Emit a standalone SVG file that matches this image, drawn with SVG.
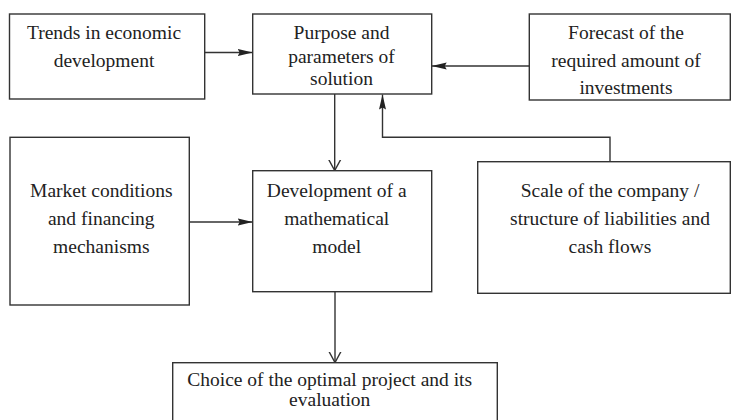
<svg xmlns="http://www.w3.org/2000/svg" width="731" height="420" viewBox="0 0 731 420">
  <style>
    .box { fill: #ffffff; stroke: #333333; stroke-width: 1.4; }
    .lbl { font-family: 'Liberation Serif', 'DejaVu Serif', serif; font-size: 19.5px; fill: #222222; text-anchor: middle; }
    .edge { fill: none; stroke: #333333; stroke-width: 1.4; }
  </style>
  <defs>
    <marker id="solid" markerUnits="userSpaceOnUse" markerWidth="16" markerHeight="10" refX="15" refY="5" orient="auto">
      <path d="M0,1.5 L15,5 L0,8.5 L2,5 Z" fill="#222222"/>
    </marker>
    <marker id="open" markerUnits="userSpaceOnUse" markerWidth="14" markerHeight="14" refX="11" refY="7" orient="auto">
      <path d="M0,1 L11,7 L0,13" fill="none" stroke="#333333" stroke-width="1.4"/>
    </marker>
  </defs>
  <rect width="731" height="420" fill="#ffffff"/>

  <g id="connectors">
    <line class="edge" x1="204.7" y1="52.5" x2="252.7" y2="52.5" marker-end="url(#solid)"/>
    <line class="edge" x1="529.3" y1="66" x2="431.7" y2="66" marker-end="url(#solid)"/>
    <line class="edge" x1="189.3" y1="222" x2="252.7" y2="222" marker-end="url(#solid)"/>
    <polyline class="edge" points="610,161.7 610,137.3 382.5,137.3 382.5,94.5" marker-end="url(#solid)"/>
    <line class="edge" x1="334.7" y1="94" x2="334.7" y2="170.5" marker-end="url(#open)"/>
    <line class="edge" x1="335" y1="291.7" x2="335" y2="362.5" marker-end="url(#open)"/>
  </g>

  <g id="trends">
    <rect class="box" x="9.5" y="14" width="195.2" height="85"/>
    <text class="lbl" x="104" y="39">Trends in economic</text>
    <text class="lbl" x="104" y="66.5">development</text>
  </g>

  <g id="purpose">
    <rect class="box" x="252.7" y="14" width="179" height="80"/>
    <text class="lbl" x="341.5" y="39">Purpose and</text>
    <text class="lbl" x="341.5" y="62.5">parameters of</text>
    <text class="lbl" x="341.5" y="85">solution</text>
  </g>

  <g id="forecast">
    <rect class="box" x="529.3" y="14" width="201" height="86"/>
    <text class="lbl" x="626" y="39">Forecast of the</text>
    <text class="lbl" x="626" y="66.5">required amount of</text>
    <text class="lbl" x="626" y="94">investments</text>
  </g>

  <g id="market">
    <rect class="box" x="10" y="137.3" width="179.3" height="167.7"/>
    <text class="lbl" x="101.3" y="196.7">Market conditions</text>
    <text class="lbl" x="101.3" y="225">and financing</text>
    <text class="lbl" x="101.3" y="253">mechanisms</text>
  </g>

  <g id="development">
    <rect class="box" x="252.7" y="170.7" width="179" height="121"/>
    <text class="lbl" x="336.7" y="196.7">Development of a</text>
    <text class="lbl" x="336.7" y="225">mathematical</text>
    <text class="lbl" x="336.7" y="253">model</text>
  </g>

  <g id="scale">
    <rect class="box" x="477.7" y="161.7" width="252.6" height="131.6"/>
    <text class="lbl" x="610" y="196.7">Scale of the company /</text>
    <text class="lbl" x="610" y="225">structure of liabilities and</text>
    <text class="lbl" x="610" y="253">cash flows</text>
  </g>

  <g id="choice">
    <rect class="box" x="172.7" y="362.7" width="324.6" height="60"/>
    <text class="lbl" x="329.7" y="385.5">Choice of the optimal project and its</text>
    <text class="lbl" x="329.7" y="405.5">evaluation</text>
  </g>
</svg>
